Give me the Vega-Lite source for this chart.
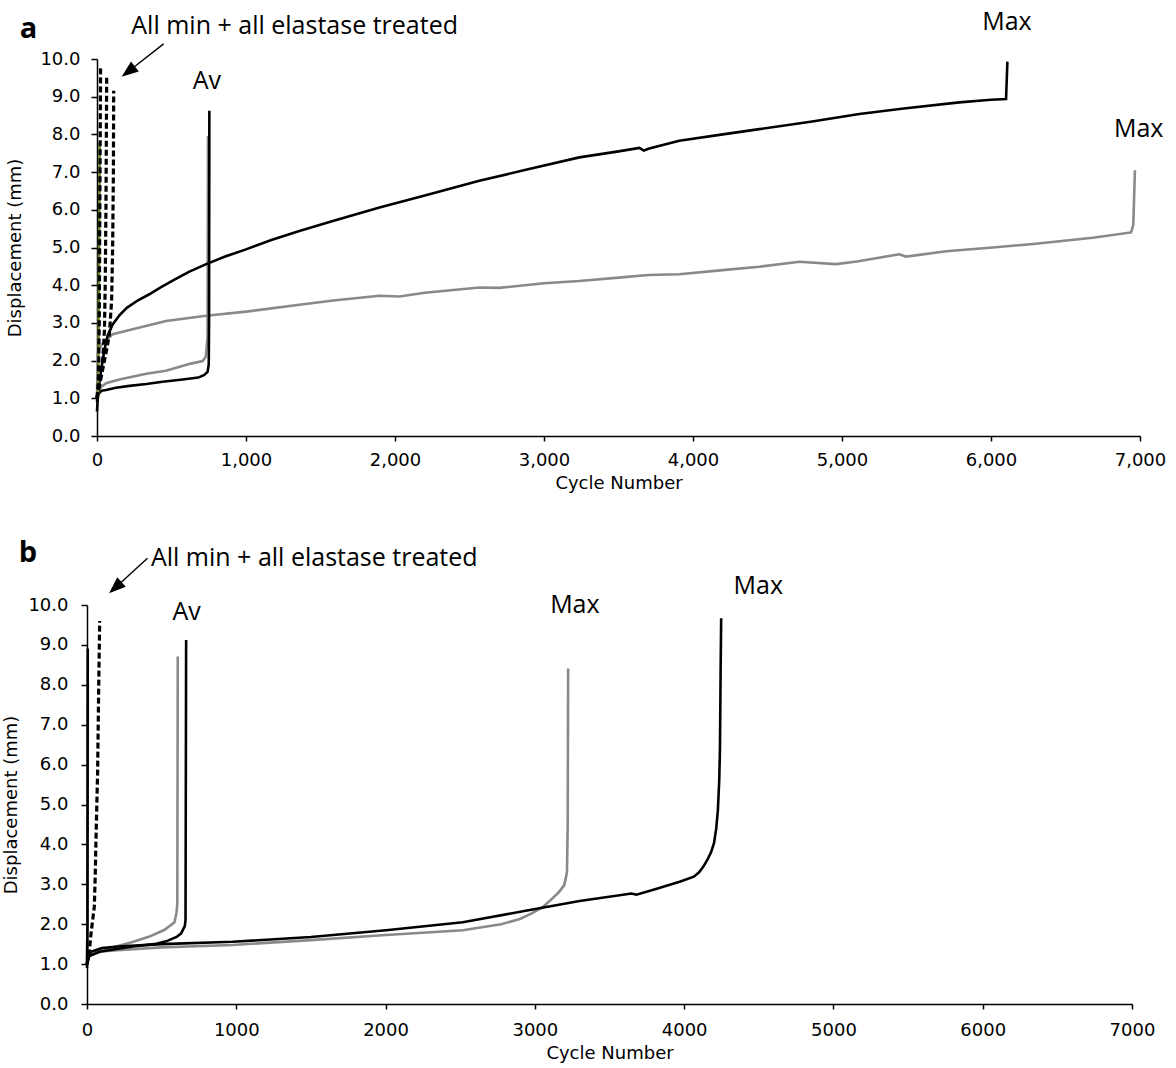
{
  "$schema": "https://vega.github.io/schema/vega-lite/v6.json",
  "padding": {"left": 2, "top": 9, "right": 10, "bottom": 5},
  "background": "white",
  "config": {
    "view": {"stroke": null},
    "axis": {
      "grid": false,
      "domainColor": "#000",
      "tickColor": "#000",
      "labelColor": "#000",
      "titleColor": "#000",
      "labelFont": "DejaVu Sans",
      "titleFont": "DejaVu Sans",
      "labelFontSize": 18,
      "titleFontSize": 18,
      "titleFontWeight": "normal",
      "domainWidth": 1.5,
      "tickWidth": 1.5
    },
    "text": {"font": "Open Sans", "fontSize": 25, "color": "#000"}
  },
  "datasets": {
    "curves_a": [
      {"s": "a_max2", "set": "Set 2", "treat": "untreated", "cycle": 0, "mm": 1.0},
      {"s": "a_max2", "set": "Set 2", "treat": "untreated", "cycle": 5, "mm": 2.2},
      {"s": "a_max2", "set": "Set 2", "treat": "untreated", "cycle": 15, "mm": 2.34},
      {"s": "a_max2", "set": "Set 2", "treat": "untreated", "cycle": 50, "mm": 2.5},
      {"s": "a_max2", "set": "Set 2", "treat": "untreated", "cycle": 105, "mm": 2.7},
      {"s": "a_max2", "set": "Set 2", "treat": "untreated", "cycle": 239, "mm": 2.83},
      {"s": "a_max2", "set": "Set 2", "treat": "untreated", "cycle": 463, "mm": 3.05},
      {"s": "a_max2", "set": "Set 2", "treat": "untreated", "cycle": 733, "mm": 3.19},
      {"s": "a_max2", "set": "Set 2", "treat": "untreated", "cycle": 1000, "mm": 3.3},
      {"s": "a_max2", "set": "Set 2", "treat": "untreated", "cycle": 1358, "mm": 3.48},
      {"s": "a_max2", "set": "Set 2", "treat": "untreated", "cycle": 1600, "mm": 3.6},
      {"s": "a_max2", "set": "Set 2", "treat": "untreated", "cycle": 1896, "mm": 3.72},
      {"s": "a_max2", "set": "Set 2", "treat": "untreated", "cycle": 2030, "mm": 3.7},
      {"s": "a_max2", "set": "Set 2", "treat": "untreated", "cycle": 2200, "mm": 3.8},
      {"s": "a_max2", "set": "Set 2", "treat": "untreated", "cycle": 2566, "mm": 3.94},
      {"s": "a_max2", "set": "Set 2", "treat": "untreated", "cycle": 2700, "mm": 3.93},
      {"s": "a_max2", "set": "Set 2", "treat": "untreated", "cycle": 3000, "mm": 4.05},
      {"s": "a_max2", "set": "Set 2", "treat": "untreated", "cycle": 3237, "mm": 4.11},
      {"s": "a_max2", "set": "Set 2", "treat": "untreated", "cycle": 3500, "mm": 4.2},
      {"s": "a_max2", "set": "Set 2", "treat": "untreated", "cycle": 3700, "mm": 4.27},
      {"s": "a_max2", "set": "Set 2", "treat": "untreated", "cycle": 3908, "mm": 4.29},
      {"s": "a_max2", "set": "Set 2", "treat": "untreated", "cycle": 4200, "mm": 4.4},
      {"s": "a_max2", "set": "Set 2", "treat": "untreated", "cycle": 4445, "mm": 4.49},
      {"s": "a_max2", "set": "Set 2", "treat": "untreated", "cycle": 4714, "mm": 4.62},
      {"s": "a_max2", "set": "Set 2", "treat": "untreated", "cycle": 4960, "mm": 4.56},
      {"s": "a_max2", "set": "Set 2", "treat": "untreated", "cycle": 5100, "mm": 4.63},
      {"s": "a_max2", "set": "Set 2", "treat": "untreated", "cycle": 5385, "mm": 4.82},
      {"s": "a_max2", "set": "Set 2", "treat": "untreated", "cycle": 5430, "mm": 4.76},
      {"s": "a_max2", "set": "Set 2", "treat": "untreated", "cycle": 5700, "mm": 4.9},
      {"s": "a_max2", "set": "Set 2", "treat": "untreated", "cycle": 6011, "mm": 5.0},
      {"s": "a_max2", "set": "Set 2", "treat": "untreated", "cycle": 6300, "mm": 5.1},
      {"s": "a_max2", "set": "Set 2", "treat": "untreated", "cycle": 6682, "mm": 5.26},
      {"s": "a_max2", "set": "Set 2", "treat": "untreated", "cycle": 6940, "mm": 5.4},
      {"s": "a_max2", "set": "Set 2", "treat": "untreated", "cycle": 6955, "mm": 5.6},
      {"s": "a_max2", "set": "Set 2", "treat": "untreated", "cycle": 6966, "mm": 7.05},

      {"s": "a_av2", "set": "Set 2", "treat": "untreated", "cycle": 0, "mm": 1.0},
      {"s": "a_av2", "set": "Set 2", "treat": "untreated", "cycle": 10, "mm": 1.25},
      {"s": "a_av2", "set": "Set 2", "treat": "untreated", "cycle": 61, "mm": 1.4},
      {"s": "a_av2", "set": "Set 2", "treat": "untreated", "cycle": 150, "mm": 1.5},
      {"s": "a_av2", "set": "Set 2", "treat": "untreated", "cycle": 331, "mm": 1.65},
      {"s": "a_av2", "set": "Set 2", "treat": "untreated", "cycle": 463, "mm": 1.73},
      {"s": "a_av2", "set": "Set 2", "treat": "untreated", "cycle": 630, "mm": 1.92},
      {"s": "a_av2", "set": "Set 2", "treat": "untreated", "cycle": 709, "mm": 1.99},
      {"s": "a_av2", "set": "Set 2", "treat": "untreated", "cycle": 730, "mm": 2.1},
      {"s": "a_av2", "set": "Set 2", "treat": "untreated", "cycle": 742, "mm": 2.6},
      {"s": "a_av2", "set": "Set 2", "treat": "untreated", "cycle": 745, "mm": 7.96},

      {"s": "a_max1", "set": "Set 1", "treat": "untreated", "cycle": 0, "mm": 0.65},
      {"s": "a_max1", "set": "Set 1", "treat": "untreated", "cycle": 5, "mm": 1.0},
      {"s": "a_max1", "set": "Set 1", "treat": "untreated", "cycle": 15, "mm": 1.38},
      {"s": "a_max1", "set": "Set 1", "treat": "untreated", "cycle": 30, "mm": 1.8},
      {"s": "a_max1", "set": "Set 1", "treat": "untreated", "cycle": 49, "mm": 2.26},
      {"s": "a_max1", "set": "Set 1", "treat": "untreated", "cycle": 70, "mm": 2.65},
      {"s": "a_max1", "set": "Set 1", "treat": "untreated", "cycle": 105, "mm": 2.96},
      {"s": "a_max1", "set": "Set 1", "treat": "untreated", "cycle": 150, "mm": 3.2},
      {"s": "a_max1", "set": "Set 1", "treat": "untreated", "cycle": 200, "mm": 3.4},
      {"s": "a_max1", "set": "Set 1", "treat": "untreated", "cycle": 275, "mm": 3.6},
      {"s": "a_max1", "set": "Set 1", "treat": "untreated", "cycle": 351, "mm": 3.76},
      {"s": "a_max1", "set": "Set 1", "treat": "untreated", "cycle": 430, "mm": 3.95},
      {"s": "a_max1", "set": "Set 1", "treat": "untreated", "cycle": 520, "mm": 4.15},
      {"s": "a_max1", "set": "Set 1", "treat": "untreated", "cycle": 620, "mm": 4.36},
      {"s": "a_max1", "set": "Set 1", "treat": "untreated", "cycle": 733, "mm": 4.56},
      {"s": "a_max1", "set": "Set 1", "treat": "untreated", "cycle": 860, "mm": 4.76},
      {"s": "a_max1", "set": "Set 1", "treat": "untreated", "cycle": 1000, "mm": 4.95},
      {"s": "a_max1", "set": "Set 1", "treat": "untreated", "cycle": 1170, "mm": 5.2},
      {"s": "a_max1", "set": "Set 1", "treat": "untreated", "cycle": 1358, "mm": 5.44},
      {"s": "a_max1", "set": "Set 1", "treat": "untreated", "cycle": 1600, "mm": 5.72},
      {"s": "a_max1", "set": "Set 1", "treat": "untreated", "cycle": 1896, "mm": 6.06},
      {"s": "a_max1", "set": "Set 1", "treat": "untreated", "cycle": 2200, "mm": 6.38},
      {"s": "a_max1", "set": "Set 1", "treat": "untreated", "cycle": 2566, "mm": 6.77},
      {"s": "a_max1", "set": "Set 1", "treat": "untreated", "cycle": 2900, "mm": 7.08},
      {"s": "a_max1", "set": "Set 1", "treat": "untreated", "cycle": 3237, "mm": 7.39},
      {"s": "a_max1", "set": "Set 1", "treat": "untreated", "cycle": 3500, "mm": 7.55},
      {"s": "a_max1", "set": "Set 1", "treat": "untreated", "cycle": 3640, "mm": 7.64},
      {"s": "a_max1", "set": "Set 1", "treat": "untreated", "cycle": 3670, "mm": 7.57},
      {"s": "a_max1", "set": "Set 1", "treat": "untreated", "cycle": 3700, "mm": 7.62},
      {"s": "a_max1", "set": "Set 1", "treat": "untreated", "cycle": 3908, "mm": 7.83},
      {"s": "a_max1", "set": "Set 1", "treat": "untreated", "cycle": 4200, "mm": 8.0},
      {"s": "a_max1", "set": "Set 1", "treat": "untreated", "cycle": 4445, "mm": 8.14},
      {"s": "a_max1", "set": "Set 1", "treat": "untreated", "cycle": 4800, "mm": 8.34},
      {"s": "a_max1", "set": "Set 1", "treat": "untreated", "cycle": 5116, "mm": 8.54},
      {"s": "a_max1", "set": "Set 1", "treat": "untreated", "cycle": 5400, "mm": 8.68},
      {"s": "a_max1", "set": "Set 1", "treat": "untreated", "cycle": 5787, "mm": 8.85},
      {"s": "a_max1", "set": "Set 1", "treat": "untreated", "cycle": 6000, "mm": 8.92},
      {"s": "a_max1", "set": "Set 1", "treat": "untreated", "cycle": 6101, "mm": 8.94},
      {"s": "a_max1", "set": "Set 1", "treat": "untreated", "cycle": 6110, "mm": 9.93},

      {"s": "a_av1", "set": "Set 1", "treat": "untreated", "cycle": 0, "mm": 0.9},
      {"s": "a_av1", "set": "Set 1", "treat": "untreated", "cycle": 5, "mm": 1.1},
      {"s": "a_av1", "set": "Set 1", "treat": "untreated", "cycle": 30, "mm": 1.2},
      {"s": "a_av1", "set": "Set 1", "treat": "untreated", "cycle": 61, "mm": 1.22},
      {"s": "a_av1", "set": "Set 1", "treat": "untreated", "cycle": 127, "mm": 1.28},
      {"s": "a_av1", "set": "Set 1", "treat": "untreated", "cycle": 218, "mm": 1.33},
      {"s": "a_av1", "set": "Set 1", "treat": "untreated", "cycle": 331, "mm": 1.38},
      {"s": "a_av1", "set": "Set 1", "treat": "untreated", "cycle": 440, "mm": 1.44},
      {"s": "a_av1", "set": "Set 1", "treat": "untreated", "cycle": 575, "mm": 1.5},
      {"s": "a_av1", "set": "Set 1", "treat": "untreated", "cycle": 680, "mm": 1.55},
      {"s": "a_av1", "set": "Set 1", "treat": "untreated", "cycle": 720, "mm": 1.62},
      {"s": "a_av1", "set": "Set 1", "treat": "untreated", "cycle": 742, "mm": 1.7},
      {"s": "a_av1", "set": "Set 1", "treat": "untreated", "cycle": 750, "mm": 1.9},
      {"s": "a_av1", "set": "Set 1", "treat": "untreated", "cycle": 752, "mm": 3.0},
      {"s": "a_av1", "set": "Set 1", "treat": "untreated", "cycle": 754, "mm": 8.63},

      {"s": "a_min3", "set": "Set 3", "treat": "untreated", "cycle": 8, "mm": 1.0},
      {"s": "a_min3", "set": "Set 3", "treat": "untreated", "cycle": 18, "mm": 7.79},

      {"s": "a_el1", "set": "Set 1", "treat": "elastase", "cycle": 0, "mm": 1.0},
      {"s": "a_el1", "set": "Set 1", "treat": "elastase", "cycle": 10, "mm": 1.5},
      {"s": "a_el1", "set": "Set 1", "treat": "elastase", "cycle": 15, "mm": 3.0},
      {"s": "a_el1", "set": "Set 1", "treat": "elastase", "cycle": 19, "mm": 6.0},
      {"s": "a_el1", "set": "Set 1", "treat": "elastase", "cycle": 24, "mm": 9.78},

      {"s": "a_el2", "set": "Set 1", "treat": "elastase", "cycle": 0, "mm": 1.0},
      {"s": "a_el2", "set": "Set 1", "treat": "elastase", "cycle": 20, "mm": 1.5},
      {"s": "a_el2", "set": "Set 1", "treat": "elastase", "cycle": 40, "mm": 2.1},
      {"s": "a_el2", "set": "Set 1", "treat": "elastase", "cycle": 50, "mm": 2.8},
      {"s": "a_el2", "set": "Set 1", "treat": "elastase", "cycle": 55, "mm": 4.0},
      {"s": "a_el2", "set": "Set 1", "treat": "elastase", "cycle": 60, "mm": 6.0},
      {"s": "a_el2", "set": "Set 1", "treat": "elastase", "cycle": 65, "mm": 9.52},

      {"s": "a_el3", "set": "Set 1", "treat": "elastase", "cycle": 0, "mm": 1.0},
      {"s": "a_el3", "set": "Set 1", "treat": "elastase", "cycle": 20, "mm": 1.4},
      {"s": "a_el3", "set": "Set 1", "treat": "elastase", "cycle": 50, "mm": 2.0},
      {"s": "a_el3", "set": "Set 1", "treat": "elastase", "cycle": 70, "mm": 2.4},
      {"s": "a_el3", "set": "Set 1", "treat": "elastase", "cycle": 83, "mm": 2.7},
      {"s": "a_el3", "set": "Set 1", "treat": "elastase", "cycle": 98, "mm": 3.58},
      {"s": "a_el3", "set": "Set 1", "treat": "elastase", "cycle": 105, "mm": 5.0},
      {"s": "a_el3", "set": "Set 1", "treat": "elastase", "cycle": 110, "mm": 7.0},
      {"s": "a_el3", "set": "Set 1", "treat": "elastase", "cycle": 112, "mm": 9.16}
    ],
    "curves_b": [
      {"s": "b_max2", "set": "Set 2", "treat": "untreated", "cycle": 0, "mm": 1.0},
      {"s": "b_max2", "set": "Set 2", "treat": "untreated", "cycle": 5, "mm": 1.15},
      {"s": "b_max2", "set": "Set 2", "treat": "untreated", "cycle": 26, "mm": 1.3},
      {"s": "b_max2", "set": "Set 2", "treat": "untreated", "cycle": 205, "mm": 1.35},
      {"s": "b_max2", "set": "Set 2", "treat": "untreated", "cycle": 500, "mm": 1.42},
      {"s": "b_max2", "set": "Set 2", "treat": "untreated", "cycle": 976, "mm": 1.48},
      {"s": "b_max2", "set": "Set 2", "treat": "untreated", "cycle": 1500, "mm": 1.6},
      {"s": "b_max2", "set": "Set 2", "treat": "untreated", "cycle": 2003, "mm": 1.73},
      {"s": "b_max2", "set": "Set 2", "treat": "untreated", "cycle": 2517, "mm": 1.85},
      {"s": "b_max2", "set": "Set 2", "treat": "untreated", "cycle": 2774, "mm": 2.0},
      {"s": "b_max2", "set": "Set 2", "treat": "untreated", "cycle": 2900, "mm": 2.13},
      {"s": "b_max2", "set": "Set 2", "treat": "untreated", "cycle": 2979, "mm": 2.27},
      {"s": "b_max2", "set": "Set 2", "treat": "untreated", "cycle": 3050, "mm": 2.42},
      {"s": "b_max2", "set": "Set 2", "treat": "untreated", "cycle": 3107, "mm": 2.61},
      {"s": "b_max2", "set": "Set 2", "treat": "untreated", "cycle": 3160, "mm": 2.8},
      {"s": "b_max2", "set": "Set 2", "treat": "untreated", "cycle": 3197, "mm": 2.98},
      {"s": "b_max2", "set": "Set 2", "treat": "untreated", "cycle": 3215, "mm": 3.3},
      {"s": "b_max2", "set": "Set 2", "treat": "untreated", "cycle": 3220, "mm": 4.5},
      {"s": "b_max2", "set": "Set 2", "treat": "untreated", "cycle": 3223, "mm": 8.41},

      {"s": "b_av2", "set": "Set 2", "treat": "untreated", "cycle": 0, "mm": 1.0},
      {"s": "b_av2", "set": "Set 2", "treat": "untreated", "cycle": 10, "mm": 1.2},
      {"s": "b_av2", "set": "Set 2", "treat": "untreated", "cycle": 60, "mm": 1.27},
      {"s": "b_av2", "set": "Set 2", "treat": "untreated", "cycle": 195, "mm": 1.44},
      {"s": "b_av2", "set": "Set 2", "treat": "untreated", "cycle": 300, "mm": 1.55},
      {"s": "b_av2", "set": "Set 2", "treat": "untreated", "cycle": 418, "mm": 1.69},
      {"s": "b_av2", "set": "Set 2", "treat": "untreated", "cycle": 520, "mm": 1.86},
      {"s": "b_av2", "set": "Set 2", "treat": "untreated", "cycle": 586, "mm": 2.05},
      {"s": "b_av2", "set": "Set 2", "treat": "untreated", "cycle": 600, "mm": 2.3},
      {"s": "b_av2", "set": "Set 2", "treat": "untreated", "cycle": 605, "mm": 2.52},
      {"s": "b_av2", "set": "Set 2", "treat": "untreated", "cycle": 608, "mm": 8.71},

      {"s": "b_min2", "set": "Set 2", "treat": "untreated", "cycle": 0, "mm": 1.0},
      {"s": "b_min2", "set": "Set 2", "treat": "untreated", "cycle": 3, "mm": 2.0},
      {"s": "b_min2", "set": "Set 2", "treat": "untreated", "cycle": 6, "mm": 8.04},

      {"s": "b_max1", "set": "Set 1", "treat": "untreated", "cycle": 0, "mm": 1.0},
      {"s": "b_max1", "set": "Set 1", "treat": "untreated", "cycle": 5, "mm": 1.1},
      {"s": "b_max1", "set": "Set 1", "treat": "untreated", "cycle": 26, "mm": 1.31},
      {"s": "b_max1", "set": "Set 1", "treat": "untreated", "cycle": 100, "mm": 1.4},
      {"s": "b_max1", "set": "Set 1", "treat": "untreated", "cycle": 205, "mm": 1.44},
      {"s": "b_max1", "set": "Set 1", "treat": "untreated", "cycle": 500, "mm": 1.5},
      {"s": "b_max1", "set": "Set 1", "treat": "untreated", "cycle": 976, "mm": 1.56},
      {"s": "b_max1", "set": "Set 1", "treat": "untreated", "cycle": 1500, "mm": 1.68},
      {"s": "b_max1", "set": "Set 1", "treat": "untreated", "cycle": 2003, "mm": 1.85},
      {"s": "b_max1", "set": "Set 1", "treat": "untreated", "cycle": 2517, "mm": 2.05},
      {"s": "b_max1", "set": "Set 1", "treat": "untreated", "cycle": 3030, "mm": 2.4},
      {"s": "b_max1", "set": "Set 1", "treat": "untreated", "cycle": 3300, "mm": 2.58},
      {"s": "b_max1", "set": "Set 1", "treat": "untreated", "cycle": 3647, "mm": 2.77},
      {"s": "b_max1", "set": "Set 1", "treat": "untreated", "cycle": 3680, "mm": 2.74},
      {"s": "b_max1", "set": "Set 1", "treat": "untreated", "cycle": 3800, "mm": 2.87},
      {"s": "b_max1", "set": "Set 1", "treat": "untreated", "cycle": 3975, "mm": 3.07},
      {"s": "b_max1", "set": "Set 1", "treat": "untreated", "cycle": 4065, "mm": 3.19},
      {"s": "b_max1", "set": "Set 1", "treat": "untreated", "cycle": 4100, "mm": 3.3},
      {"s": "b_max1", "set": "Set 1", "treat": "untreated", "cycle": 4130, "mm": 3.45},
      {"s": "b_max1", "set": "Set 1", "treat": "untreated", "cycle": 4155, "mm": 3.61},
      {"s": "b_max1", "set": "Set 1", "treat": "untreated", "cycle": 4180, "mm": 3.8},
      {"s": "b_max1", "set": "Set 1", "treat": "untreated", "cycle": 4200, "mm": 4.03},
      {"s": "b_max1", "set": "Set 1", "treat": "untreated", "cycle": 4215, "mm": 4.4},
      {"s": "b_max1", "set": "Set 1", "treat": "untreated", "cycle": 4226, "mm": 4.86},
      {"s": "b_max1", "set": "Set 1", "treat": "untreated", "cycle": 4235, "mm": 5.6},
      {"s": "b_max1", "set": "Set 1", "treat": "untreated", "cycle": 4240, "mm": 6.4},
      {"s": "b_max1", "set": "Set 1", "treat": "untreated", "cycle": 4244, "mm": 8.2},
      {"s": "b_max1", "set": "Set 1", "treat": "untreated", "cycle": 4248, "mm": 9.67},

      {"s": "b_av1", "set": "Set 1", "treat": "untreated", "cycle": 0, "mm": 1.0},
      {"s": "b_av1", "set": "Set 1", "treat": "untreated", "cycle": 15, "mm": 1.2},
      {"s": "b_av1", "set": "Set 1", "treat": "untreated", "cycle": 83, "mm": 1.31},
      {"s": "b_av1", "set": "Set 1", "treat": "untreated", "cycle": 306, "mm": 1.44},
      {"s": "b_av1", "set": "Set 1", "treat": "untreated", "cycle": 450, "mm": 1.5},
      {"s": "b_av1", "set": "Set 1", "treat": "untreated", "cycle": 530, "mm": 1.57},
      {"s": "b_av1", "set": "Set 1", "treat": "untreated", "cycle": 600, "mm": 1.68},
      {"s": "b_av1", "set": "Set 1", "treat": "untreated", "cycle": 631, "mm": 1.77},
      {"s": "b_av1", "set": "Set 1", "treat": "untreated", "cycle": 655, "mm": 1.95},
      {"s": "b_av1", "set": "Set 1", "treat": "untreated", "cycle": 660, "mm": 2.1},
      {"s": "b_av1", "set": "Set 1", "treat": "untreated", "cycle": 664, "mm": 9.12},

      {"s": "b_min1", "set": "Set 1", "treat": "untreated", "cycle": 0, "mm": 0.9},
      {"s": "b_min1", "set": "Set 1", "treat": "untreated", "cycle": 3, "mm": 2.0},
      {"s": "b_min1", "set": "Set 1", "treat": "untreated", "cycle": 5, "mm": 8.91},

      {"s": "b_el1", "set": "Set 1", "treat": "elastase", "cycle": 0, "mm": 1.0},
      {"s": "b_el1", "set": "Set 1", "treat": "elastase", "cycle": 15, "mm": 1.3},
      {"s": "b_el1", "set": "Set 1", "treat": "elastase", "cycle": 27, "mm": 1.77},
      {"s": "b_el1", "set": "Set 1", "treat": "elastase", "cycle": 49, "mm": 2.44},
      {"s": "b_el1", "set": "Set 1", "treat": "elastase", "cycle": 55, "mm": 3.2},
      {"s": "b_el1", "set": "Set 1", "treat": "elastase", "cycle": 60, "mm": 4.1},
      {"s": "b_el1", "set": "Set 1", "treat": "elastase", "cycle": 71, "mm": 5.78},
      {"s": "b_el1", "set": "Set 1", "treat": "elastase", "cycle": 78, "mm": 7.87},
      {"s": "b_el1", "set": "Set 1", "treat": "elastase", "cycle": 85, "mm": 9.6}
    ],
    "notes_a": [
      {"text": "Av", "cycle": 737, "mm": 9.2},
      {"text": "Max", "cycle": 6107, "mm": 10.77},
      {"text": "Max", "cycle": 6991, "mm": 7.92}
    ],
    "lead_a": [{"text": "All min + all elastase treated", "cycle": 230, "mm": 10.66}],
    "letter_a": [{"text": "a", "cycle": -460, "mm": 10.57}],
    "arrow_a": [{"cycle": 447, "mm": 10.4, "cycle2": 221, "mm2": 9.7}],
    "notes_b": [
      {"text": "Av", "cycle": 667, "mm": 9.62},
      {"text": "Max", "cycle": 3268, "mm": 9.81},
      {"text": "Max", "cycle": 4497, "mm": 10.28}
    ],
    "lead_b": [{"text": "All min + all elastase treated", "cycle": 428, "mm": 10.98}],
    "letter_b": [{"text": "b", "cycle": -396, "mm": 11.08}],
    "arrow_b": [{"cycle": 405, "mm": 11.17, "cycle2": 200, "mm2": 10.47}]
  },
  "concat": [
    {
      "width": 1053,
      "height": 377,
      "encoding": {
        "x": {"field": "cycle", "type": "quantitative", "scale": {"domain": [0, 7000], "range": [10, 1053], "nice": false, "zero": false},
              "axis": {"title": "Cycle Number", "values": [0, 1000, 2000, 3000, 4000, 5000, 6000, 7000], "format": ",d", "tickSize": 5, "labelPadding": 10, "titlePadding": 5, "labelFlush": false}},
        "y": {"field": "mm", "type": "quantitative", "scale": {"domain": [0, 10], "nice": false, "zero": false},
              "axis": {"title": "Displacement (mm)", "values": [0, 1, 2, 3, 4, 5, 6, 7, 8, 9, 10], "format": ".1f", "tickSize": 6, "labelPadding": 11, "titlePadding": 15, "labelFlush": false, "offset": -10}}
      },
      "layer": [
        {
          "data": {"name": "curves_a"},
          "transform": [{"filter": "datum.treat === 'untreated'"}],
          "mark": {"type": "line", "strokeWidth": 2.6, "strokeCap": "butt"},
          "encoding": {
            "detail": {"field": "s"},
            "color": {"field": "set", "type": "nominal", "scale": {"domain": ["Set 1", "Set 2", "Set 3"], "range": ["#000000", "#898989", "#6b8a2e"]}, "legend": null}
          }
        },
        {
          "data": {"name": "curves_a"},
          "transform": [{"filter": "datum.treat === 'elastase'"}],
          "mark": {"type": "line", "strokeWidth": 3.2, "strokeCap": "butt", "strokeDash": [6, 3]},
          "encoding": {
            "detail": {"field": "s"},
            "color": {"field": "set", "type": "nominal", "legend": null}
          }
        },
        {
          "data": {"name": "arrow_a"},
          "mark": {"type": "rule", "color": "#000", "strokeWidth": 1.4},
          "encoding": {"x2": {"field": "cycle2"}, "y2": {"field": "mm2"}}
        },
        {
          "data": {"name": "arrow_a"},
          "mark": {"type": "point", "shape": "M0,-1L0.6,0.6L-0.6,0.6Z", "filled": true, "color": "#000", "size": 440, "angle": 232, "opacity": 1},
          "encoding": {"x": {"field": "cycle2", "type": "quantitative"}, "y": {"field": "mm2", "type": "quantitative"}}
        },
        {
          "data": {"name": "notes_a"},
          "mark": {"type": "text", "align": "center", "baseline": "alphabetic"},
          "encoding": {"text": {"field": "text"}}
        },
        {
          "data": {"name": "lead_a"},
          "mark": {"type": "text", "align": "left", "baseline": "alphabetic"},
          "encoding": {"text": {"field": "text"}}
        },
        {
          "data": {"name": "letter_a"},
          "mark": {"type": "text", "align": "center", "baseline": "alphabetic", "fontWeight": "bold", "fontSize": 29},
          "encoding": {"text": {"field": "text"}}
        }
      ]
    },
    {
      "width": 1045,
      "height": 399,
      "encoding": {
        "x": {"field": "cycle", "type": "quantitative", "scale": {"domain": [0, 7000], "nice": false, "zero": false},
              "axis": {"title": "Cycle Number", "values": [0, 1000, 2000, 3000, 4000, 5000, 6000, 7000], "format": "d", "tickSize": 5, "labelPadding": 12, "titlePadding": 5, "labelFlush": false}},
        "y": {"field": "mm", "type": "quantitative", "scale": {"domain": [0, 10], "nice": false, "zero": false},
              "axis": {"title": "Displacement (mm)", "values": [0, 1, 2, 3, 4, 5, 6, 7, 8, 9, 10], "format": ".1f", "tickSize": 6, "labelPadding": 13, "titlePadding": 7, "labelFlush": false}}
      },
      "layer": [
        {
          "data": {"name": "curves_b"},
          "transform": [{"filter": "datum.treat === 'untreated'"}],
          "mark": {"type": "line", "strokeWidth": 2.6, "strokeCap": "butt"},
          "encoding": {
            "detail": {"field": "s"},
            "color": {"field": "set", "type": "nominal", "scale": {"domain": ["Set 1", "Set 2", "Set 3"], "range": ["#000000", "#898989", "#6b8a2e"]}, "legend": null}
          }
        },
        {
          "data": {"name": "curves_b"},
          "transform": [{"filter": "datum.treat === 'elastase'"}],
          "mark": {"type": "line", "strokeWidth": 3.2, "strokeCap": "butt", "strokeDash": [6, 3]},
          "encoding": {
            "detail": {"field": "s"},
            "color": {"field": "set", "type": "nominal", "legend": null}
          }
        },
        {
          "data": {"name": "arrow_b"},
          "mark": {"type": "rule", "color": "#000", "strokeWidth": 1.4},
          "encoding": {"x2": {"field": "cycle2"}, "y2": {"field": "mm2"}}
        },
        {
          "data": {"name": "arrow_b"},
          "mark": {"type": "point", "shape": "M0,-1L0.6,0.6L-0.6,0.6Z", "filled": true, "color": "#000", "size": 440, "angle": 227.6, "opacity": 1},
          "encoding": {"x": {"field": "cycle2", "type": "quantitative"}, "y": {"field": "mm2", "type": "quantitative"}}
        },
        {
          "data": {"name": "notes_b"},
          "mark": {"type": "text", "align": "center", "baseline": "alphabetic"},
          "encoding": {"text": {"field": "text"}}
        },
        {
          "data": {"name": "lead_b"},
          "mark": {"type": "text", "align": "left", "baseline": "alphabetic"},
          "encoding": {"text": {"field": "text"}}
        },
        {
          "data": {"name": "letter_b"},
          "mark": {"type": "text", "align": "center", "baseline": "alphabetic", "fontWeight": "bold", "fontSize": 29},
          "encoding": {"text": {"field": "text"}}
        }
      ]
    }
  ],
  "columns": 1,
  "spacing": 46
}
